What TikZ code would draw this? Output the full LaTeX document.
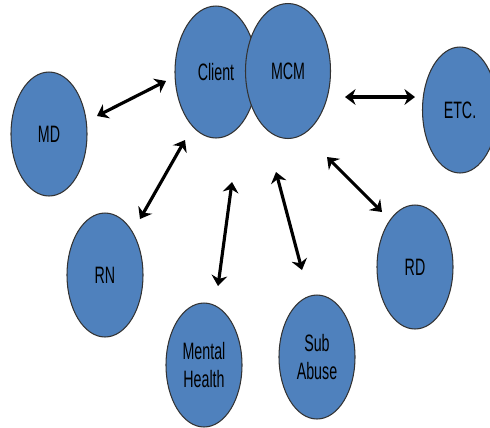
\documentclass[tikz,border=0pt]{standalone}
\usepackage{fontspec}
\usepackage{tikz}
\newfontfamily\lblfont[FakeStretch=0.6]{Liberation Sans}
\usetikzlibrary{shapes.geometric,arrows.meta}
\definecolor{ovalblue}{RGB}{79,129,189}

\begin{document}
\begin{tikzpicture}[x=.02cm,y=-.02cm,
	oval/.style={ellipse,draw=black!80,fill=ovalblue,line width=.6pt,inner sep=0pt,
		minimum width=1.52cm,minimum height=2.48cm,align=center,
		font=\lblfont\fontsize{13.5}{15.5}\selectfont},
	link/.style={{Stealth[length=6pt,width=9pt]}-{Stealth[length=6pt,width=9pt]},line width=1.8pt}]
	
	\useasboundingbox (0,0) rectangle (490,427);
	\clip (0,0) rectangle (490,427);
	
	\node[oval,minimum width=1.64cm,minimum height=2.64cm] (client) at (216,72) {Client};
	\node[oval,minimum width=1.7cm,minimum height=2.7cm] (mcm) at (288,71) {MCM};
	\node[oval] (md) at (49,134) {MD};
	\node[oval,minimum width=1.5cm,minimum height=2.52cm] (etc) at (460,110) {ETC.};
	\node[oval] (rn) at (105,275) {RN};
	\node[oval] (mh) at (204,365) {Mental\\Health};
	\node[oval] (sa) at (317,357) {Sub\\Abuse};
	\node[oval] (rd) at (415,267) {RD};
	
	\coordinate (a1) at (97,116);  \coordinate (b1) at (166,81);
	\coordinate (a2) at (345,97);  \coordinate (b2) at (415,97);
	\coordinate (a3) at (140,219); \coordinate (b3) at (185,140);
	\coordinate (a4) at (218,286); \coordinate (b4) at (232,182);
	\coordinate (a5) at (302,270); \coordinate (b5) at (276,172);
	\coordinate (a6) at (382,212); \coordinate (b6) at (327,157);
	
	\draw[link] (a1) -- (b1);
	\draw[link] (a2) -- (b2);
	\draw[link] (a3) -- (b3);
	\draw[link] (a4) -- (b4);
	\draw[link] (a5) -- (b5);
	\draw[link] (a6) -- (b6);
	
\end{tikzpicture}
\end{document}
